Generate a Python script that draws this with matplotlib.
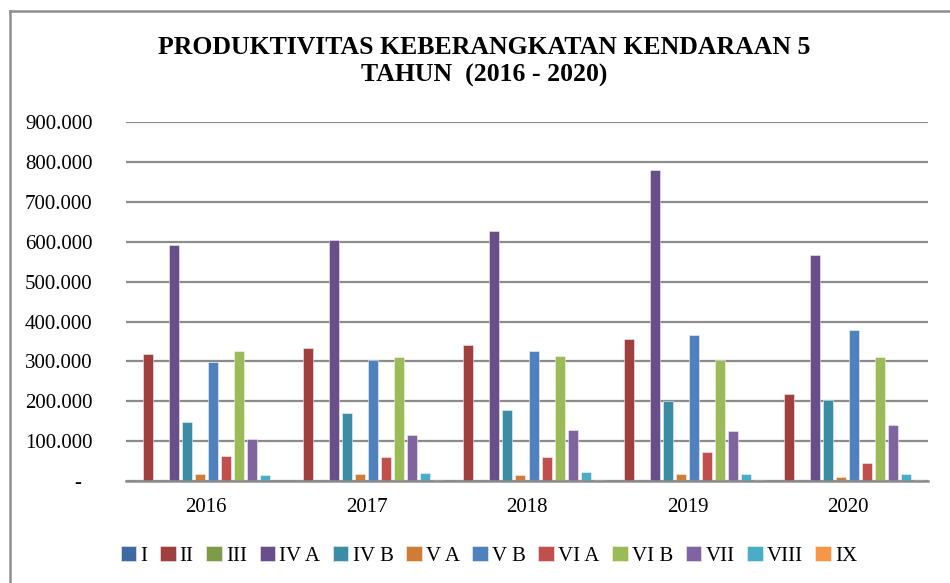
import matplotlib
matplotlib.use("Agg")
import matplotlib.pyplot as plt
from matplotlib.lines import Line2D
from matplotlib.ticker import FuncFormatter
import numpy as np

years = ["2016", "2017", "2018", "2019", "2020"]
series = ["I", "II", "III", "IV A", "IV B", "V A", "V B", "VI A", "VI B", "VII", "VIII", "IX"]

I_vals = [0, 0, 0, 0, 0]
II_vals = [317500, 332600, 341000, 357000, 218000]
III_vals = [0, 0, 0, 0, 0]
IVA_vals = [591600, 604000, 627600, 781000, 567000]
IVB_vals = [147000, 170000, 177000, 201000, 203000]
VA_vals = [16700, 16700, 15000, 17600, 10000]
VB_vals = [299000, 303000, 326700, 367000, 378500]
VIA_vals = [62000, 60000, 60000, 73000, 46000]
VIB_vals = [325000, 312000, 313000, 304000, 310000]
VII_vals = [105000, 115000, 127000, 126500, 141000]
VIII_vals = [14000, 19000, 22000, 18400, 18400]
IX_vals = [1000, 3000, 3000, 3000, 3000]

values = [I_vals, II_vals, III_vals, IVA_vals, IVB_vals, VA_vals,
          VB_vals, VIA_vals, VIB_vals, VII_vals, VIII_vals, IX_vals]

colors = ["#3E6AA3", "#A0403E", "#7E9B48", "#684F89", "#3A8DA4", "#D07C36",
          "#4F81BD", "#C0504D", "#9BBB59", "#8064A2", "#4BACC6", "#F79646"]

plt.rcParams["font.family"] = ["Liberation Serif", "DejaVu Serif"]

fig = plt.figure(figsize=(9.5, 5.83), dpi=100)
ax = fig.add_axes([126 / 950, 1 - 481 / 583, (928 - 126) / 950, (481 - 122.3) / 583])

x = np.arange(len(years))
slot = 13.0 / 160.2
bw = 10.0 / 160.2
handles = []
for i, (name, vals, c) in enumerate(zip(series, values, colors)):
    b = ax.bar(x + (i - 5.5) * slot, vals, width=bw, color=c, label=name,
               edgecolor=(1, 1, 1, 0.55), linewidth=0.6, zorder=3)
    handles.append(b)

ax.set_xlim(-0.5, 4.5)
ax.set_ylim(0, 900000)
ax.set_yticks(np.arange(0, 900001, 100000))
ax.yaxis.set_major_formatter(FuncFormatter(
    lambda v, p: "-  " if v == 0 else f"{int(v):,}".replace(",", ".")))
ax.set_xticks(x)
ax.set_xticklabels(years)
ax.tick_params(axis="y", length=0, pad=24, labelsize=15)
ax.tick_params(axis="x", length=0, pad=12, labelsize=15)
ax.grid(axis="y", color="#8c8c8c", linewidth=1.6, zorder=0)
for s in ["top", "right", "left"]:
    ax.spines[s].set_visible(False)
ax.spines["bottom"].set_color("#8c8c8c")
ax.spines["bottom"].set_linewidth(1.8)
ax.spines["bottom"].set_zorder(4)

fig.text(484 / 950, 1 - 47 / 583, "PRODUKTIVITAS KEBERANGKATAN KENDARAAN 5",
         ha="center", va="center", fontsize=18.5, fontweight="bold")
fig.text(484 / 950, 1 - 75 / 583, "TAHUN  (2016 - 2020)",
         ha="center", va="center", fontsize=18.5, fontweight="bold")

leg = fig.legend(handles=handles, labels=series, loc="center",
                 bbox_to_anchor=(489 / 950, 1 - 556 / 583), ncol=12,
                 frameon=False, fontsize=15, handlelength=0.75, handleheight=0.75,
                 handletextpad=0.2, columnspacing=0.6, borderpad=0)

fig.add_artist(Line2D([10 / 950, 10 / 950], [1 - 11 / 583, 0], color="#8f8f8f",
                      linewidth=1.8, transform=fig.transFigure))
fig.add_artist(Line2D([10 / 950, 1], [1 - 11 / 583, 1 - 11 / 583], color="#8f8f8f",
                      linewidth=1.8, transform=fig.transFigure))

fig.savefig("out.png", dpi=100, facecolor="white")
